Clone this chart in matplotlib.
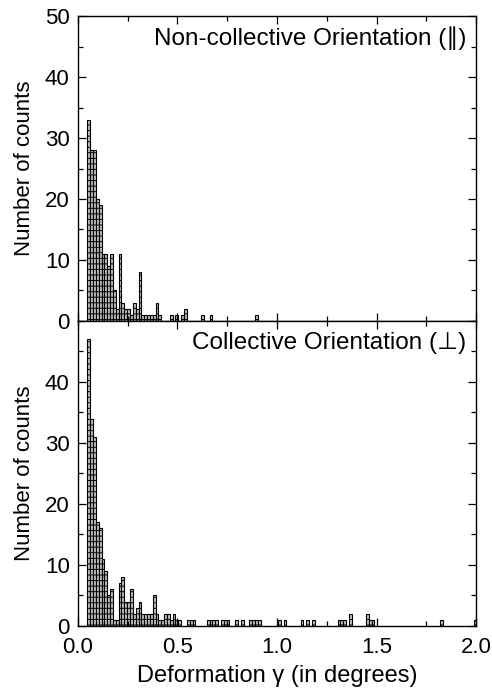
import numpy as np
import matplotlib
matplotlib.use("Agg")
import matplotlib.pyplot as plt
from matplotlib.ticker import MultipleLocator

plt.rcParams['font.family'] = ['Liberation Sans', 'DejaVu Sans']
plt.rcParams['hatch.linewidth'] = 0.7

# histogram grid (deg)
bin_start = 0.047
bin_width = 1 / 70

# parallel (non-collective) orientation: bin index -> counts
par_bins = [0, 1, 2, 3, 4, 5, 6, 7, 8, 9, 10, 11, 12, 13, 14, 15, 16, 17, 18,
            19, 20, 21, 22, 23, 24, 25, 29, 31, 33, 34, 40, 43, 59]
par_counts = [33, 28, 28, 20, 19, 11, 11, 9, 11, 5, 2, 11, 3, 2, 2, 1, 3, 2, 8,
              1, 1, 1, 1, 1, 3, 1, 1, 1, 1, 2, 1, 1, 1]

# perpendicular (collective) orientation
perp_bins = [0, 1, 2, 3, 4, 5, 6, 7, 8, 9, 10, 11, 12, 13, 14, 15, 16, 17, 18,
             19, 20, 21, 22, 23, 24, 25, 26, 27, 28, 29, 30, 31, 32, 35, 36, 37,
             42, 43, 44, 45, 47, 48, 49, 52, 54, 57, 58, 59, 60, 67, 69, 75, 77,
             79, 88, 89, 90, 92, 98, 99, 100, 124, 136]
perp_counts = [47, 34, 31, 17, 16, 11, 9, 5, 6, 1, 1, 7, 8, 4, 4, 6, 2, 3, 4,
               2, 2, 2, 2, 5, 2, 1, 1, 2, 2, 1, 2, 1, 1, 1, 1, 1,
               1, 1, 1, 1, 1, 1, 1, 1, 1, 1, 1, 1, 1, 1, 1, 1, 1,
               1, 1, 1, 1, 2, 2, 1, 1, 1, 1]

labels = ["Non-collective Orientation (\u2225)", "Collective Orientation (\u22a5)"]

fig = plt.figure(figsize=(4.92, 6.91), dpi=100)
ax1 = fig.add_axes([0.1585, 0.5355, 0.809, 0.4413])
ax2 = fig.add_axes([0.1585, 0.0941, 0.809, 0.4414], sharex=ax1)

for ax, bins, counts, lab in [(ax1, par_bins, par_counts, labels[0]),
                              (ax2, perp_bins, perp_counts, labels[1])]:
    left = bin_start + np.array(bins) * bin_width
    ax.bar(left, counts, width=bin_width, align='edge', facecolor='#bdbdbd',
           edgecolor='black', linewidth=0.8, hatch='---')
    ax.set_xlim(0, 2.0)
    ax.set_ylim(0, 50)
    ax.xaxis.set_major_locator(MultipleLocator(0.5))
    ax.xaxis.set_minor_locator(MultipleLocator(0.25))
    ax.yaxis.set_major_locator(MultipleLocator(10))
    ax.yaxis.set_minor_locator(MultipleLocator(5))
    ax.tick_params(which='both', direction='in', top=True, right=True,
                   width=0.9, labelsize=16)
    ax.tick_params(which='major', length=6, pad=6)
    ax.tick_params(which='minor', length=3.5)
    for s in ax.spines.values():
        s.set_linewidth(1.0)
    ax.set_ylabel("Number of counts", fontsize=16, labelpad=7)
    ax.text(0.975, 0.965, lab, transform=ax.transAxes, ha='right', va='top',
            fontsize=17.5)

ax1.tick_params(labelbottom=False)
ax2.set_yticks([0, 10, 20, 30, 40])
ax2.set_xticks([0, 0.5, 1.0, 1.5, 2.0])
ax2.set_xticklabels(["0.0", "0.5", "1.0", "1.5", "2.0"])
ax2.tick_params(axis='x', which='major', pad=8)
ax2.set_xlabel("Deformation \u03b3 (in degrees)", fontsize=17, labelpad=5)

fig.savefig("out.png", dpi=100)
